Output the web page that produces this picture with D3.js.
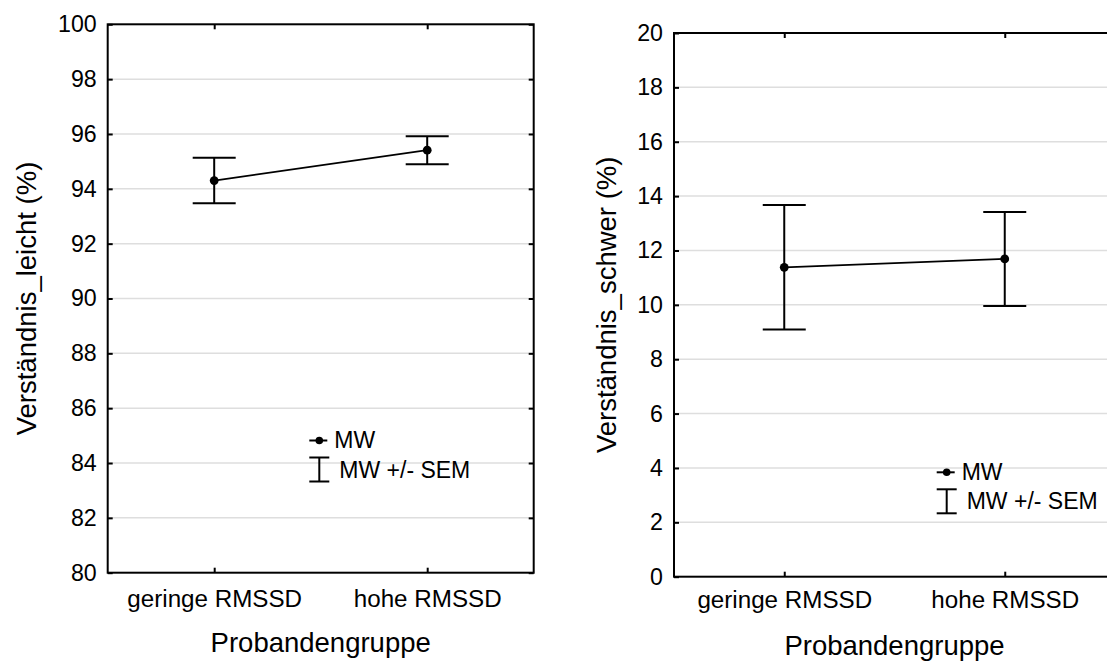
<!DOCTYPE html>
<html>
<head>
<meta charset="utf-8">
<script src="https://cdn.jsdelivr.net/npm/d3@7"></script>
<style>
  html, body { margin: 0; padding: 0; background: #fff; overflow: hidden; }
  svg { display: block; font-family: "Liberation Sans", Arial, sans-serif; }
</style>
</head>
<body>
<svg id="chart" width="1107" height="662"></svg>
<script>
// ---- data ----
const categories = ["geringe RMSSD", "hohe RMSSD"];
const leichtMean = [94.30, 95.41];
const leichtSEM  = [0.83, 0.51];
const schwerMean = [11.38, 11.69];
const schwerSEM  = [2.29, 1.73];
const leichtTicks = [80, 82, 84, 86, 88, 90, 92, 94, 96, 98, 100];
const schwerTicks = [0, 2, 4, 6, 8, 10, 12, 14, 16, 18, 20];
const xTitle = "Probandengruppe";
const legendLabels = ["MW", "MW +/- SEM"];

const svg = d3.select("#chart");

function drawPanel(cfg) {
  const { x0, x1, y0, y1, domain, ticks, means, sems, yTitle, yTitleX, legend, catBaseline, titleBaseline } = cfg;
  const g = svg.append("g");
  const x = d3.scalePoint().domain(categories).range([x0, x1]).padding(0.5);
  const y = d3.scaleLinear().domain(domain).range([y1, y0]);

  // gridlines
  g.append("g").selectAll("line").data(ticks.slice(1, -1)).join("line")
    .attr("x1", x0).attr("x2", x1)
    .attr("y1", d => y(d)).attr("y2", d => y(d))
    .attr("stroke", "#dedede").attr("stroke-width", 1.5);

  // axes (inward ticks)
  const left = g.append("g").attr("transform", `translate(${x0},0)`)
    .call(d3.axisLeft(y).tickValues(ticks).tickSize(-5).tickPadding(11).tickFormat(d3.format("d")));
  const right = g.append("g").attr("transform", `translate(${x1},0)`)
    .call(d3.axisRight(y).tickValues(ticks).tickSize(-5).tickFormat(""));
  const bottom = g.append("g").attr("transform", `translate(0,${y1})`)
    .call(d3.axisBottom(x).tickSize(-5).tickPadding(0));
  const top = g.append("g").attr("transform", `translate(0,${y0})`)
    .call(d3.axisTop(x).tickSize(-5).tickFormat(""));
  [left, right, bottom, top].forEach(a => {
    a.select(".domain").remove();
    a.selectAll(".tick line").attr("stroke", "#000").attr("stroke-width", 2);
  });
  left.selectAll("text").attr("font-size", 23.2).attr("fill", "#000")
    .attr("font-family", "Liberation Sans, Arial, sans-serif");
  bottom.selectAll("text").attr("font-size", 24.2).attr("fill", "#000")
    .attr("font-family", "Liberation Sans, Arial, sans-serif")
    .attr("dy", null).attr("y", catBaseline - y1);

  // frame
  g.append("rect").attr("x", x0).attr("y", y0).attr("width", x1 - x0).attr("height", y1 - y0)
    .attr("fill", "none").attr("stroke", "#000").attr("stroke-width", 2);

  // error bars
  const cap = 21.5;
  const eb = g.append("g").attr("stroke", "#000").attr("stroke-width", 2).attr("fill", "none");
  categories.forEach((c, i) => {
    const cx = x(c), hi = y(means[i] + sems[i]), lo = y(means[i] - sems[i]);
    eb.append("line").attr("x1", cx).attr("x2", cx).attr("y1", hi).attr("y2", lo);
    eb.append("line").attr("x1", cx - cap).attr("x2", cx + cap).attr("y1", hi).attr("y2", hi);
    eb.append("line").attr("x1", cx - cap).attr("x2", cx + cap).attr("y1", lo).attr("y2", lo);
  });

  // mean line + points
  const line = d3.line().x((d, i) => x(categories[i])).y(d => y(d));
  g.append("path").datum(means).attr("d", line)
    .attr("fill", "none").attr("stroke", "#000").attr("stroke-width", 1.6);
  g.append("g").selectAll("circle").data(means).join("circle")
    .attr("cx", (d, i) => x(categories[i])).attr("cy", d => y(d)).attr("r", 4.4).attr("fill", "#000");

  // y title
  g.append("text")
    .attr("transform", `translate(${yTitleX},${(y0 + y1) / 2}) rotate(-90)`)
    .attr("text-anchor", "middle").attr("font-size", 27.5).attr("fill", "#000").text(yTitle);
  // x title
  g.append("text").attr("x", (x0 + x1) / 2).attr("y", titleBaseline)
    .attr("text-anchor", "middle").attr("font-size", 27.5).attr("fill", "#000").text(xTitle);

  // legend
  const L = g.append("g");
  const lx = legend.x, ly = legend.y;
  L.append("line").attr("x1", lx - 10).attr("x2", lx + 8).attr("y1", ly).attr("y2", ly)
    .attr("stroke", "#000").attr("stroke-width", 2);
  L.append("circle").attr("cx", lx).attr("cy", ly).attr("r", 3.8).attr("fill", "#000");
  L.append("text").attr("x", lx + 15).attr("y", ly + 7.5).attr("font-size", 23).attr("fill", "#000").text(legendLabels[0]);
  const et = ly + 17, eb2 = ly + 41;
  L.append("line").attr("x1", lx).attr("x2", lx).attr("y1", et).attr("y2", eb2).attr("stroke", "#000").attr("stroke-width", 2);
  L.append("line").attr("x1", lx - 10).attr("x2", lx + 10).attr("y1", et).attr("y2", et).attr("stroke", "#000").attr("stroke-width", 2);
  L.append("line").attr("x1", lx - 10).attr("x2", lx + 10).attr("y1", eb2).attr("y2", eb2).attr("stroke", "#000").attr("stroke-width", 2);
  L.append("text").attr("x", lx + 20).attr("y", ly + 37).attr("font-size", 23).attr("fill", "#000").text(legendLabels[1]);
}

drawPanel({
  x0: 107.7, x1: 533.7, y0: 24.3, y1: 572.7,
  domain: [80, 100], ticks: leichtTicks, means: leichtMean, sems: leichtSEM,
  yTitle: "Verständnis_leicht (%)", yTitleX: 36,
  legend: { x: 319.3, y: 440.5 }, catBaseline: 607, titleBaseline: 652
});

drawPanel({
  x0: 674, x1: 1115, y0: 33, y1: 576.7,
  domain: [0, 20], ticks: schwerTicks, means: schwerMean, sems: schwerSEM,
  yTitle: "Verständnis_schwer (%)", yTitleX: 616,
  legend: { x: 946.7, y: 472.3 }, catBaseline: 608.5, titleBaseline: 655
});
</script>
</body>
</html>
